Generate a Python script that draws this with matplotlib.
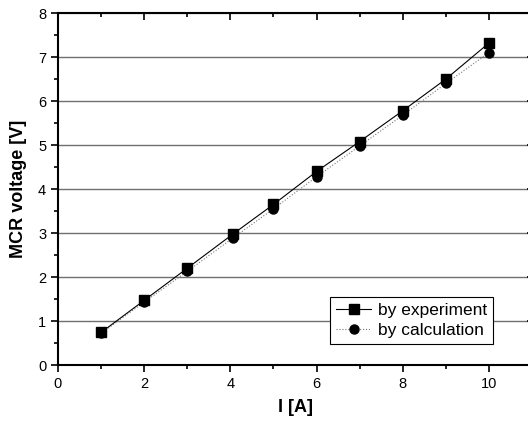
import numpy as np
import matplotlib
matplotlib.use("Agg")
import matplotlib.pyplot as plt
from matplotlib.ticker import MultipleLocator

plt.rcParams['font.family'] = ['Liberation Sans', 'DejaVu Sans']

current = [1, 2, 3, 4.05, 5, 6, 7, 8, 9, 10]
v_experiment = [0.74, 1.47, 2.20, 2.97, 3.65, 4.40, 5.08, 5.78, 6.50, 7.32]
v_calculation = [0.72, 1.43, 2.13, 2.88, 3.55, 4.28, 4.98, 5.68, 6.40, 7.10]

fig = plt.figure(figsize=(5.28, 4.21), dpi=100)
ax = fig.add_axes([0.1098, 0.133, 0.898, 0.836])

for y in range(1, 8):
    ax.axhline(y, color='#707070', lw=1.0, zorder=0)

ax.plot(current, v_experiment, color='black', lw=0.8, marker='s', ms=6.5,
        label='by experiment', zorder=3)
ax.plot(current, v_calculation, color='#777777', lw=0.8, ls=':', marker='o', ms=6.5,
        mfc='black', mec='black', label='by calculation', zorder=2)

ax.set_xlim(0, 11)
ax.set_ylim(0, 8)
ax.xaxis.set_major_locator(MultipleLocator(2))
ax.xaxis.set_minor_locator(MultipleLocator(1))
ax.yaxis.set_major_locator(MultipleLocator(1))
ax.yaxis.set_minor_locator(MultipleLocator(0.5))
ax.tick_params(which='both', direction='out', labelsize=10.5, width=1.2)
ax.tick_params(which='major', length=5)
ax.tick_params(which='minor', length=3)
for s in ax.spines.values():
    s.set_linewidth(1.5)

# mirrored ticks on top and right, pointing in
top = ax.secondary_xaxis('top')
top.xaxis.set_major_locator(MultipleLocator(2))
top.xaxis.set_minor_locator(MultipleLocator(1))
top.tick_params(which='both', direction='in', labeltop=False, width=1.2)
top.tick_params(which='major', length=5)
top.tick_params(which='minor', length=3)
right = ax.secondary_yaxis('right')
right.yaxis.set_major_locator(MultipleLocator(1))
right.yaxis.set_minor_locator(MultipleLocator(0.5))
right.tick_params(which='both', direction='in', labelright=False, width=1.2)

ax.set_xlabel('I [A]', fontsize=13, fontweight='bold', labelpad=6)
ax.set_ylabel('MCR voltage [V]', fontsize=13, fontweight='bold', labelpad=8)

leg = ax.legend(loc='lower right', bbox_to_anchor=(0.936, 0.035), fontsize=12.5,
                fancybox=False, framealpha=1, edgecolor='black',
                handlelength=2.0, borderpad=0.35, labelspacing=0.25, handletextpad=0.4)
leg.get_frame().set_linewidth(0.8)

fig.savefig('out.png', dpi=100)
